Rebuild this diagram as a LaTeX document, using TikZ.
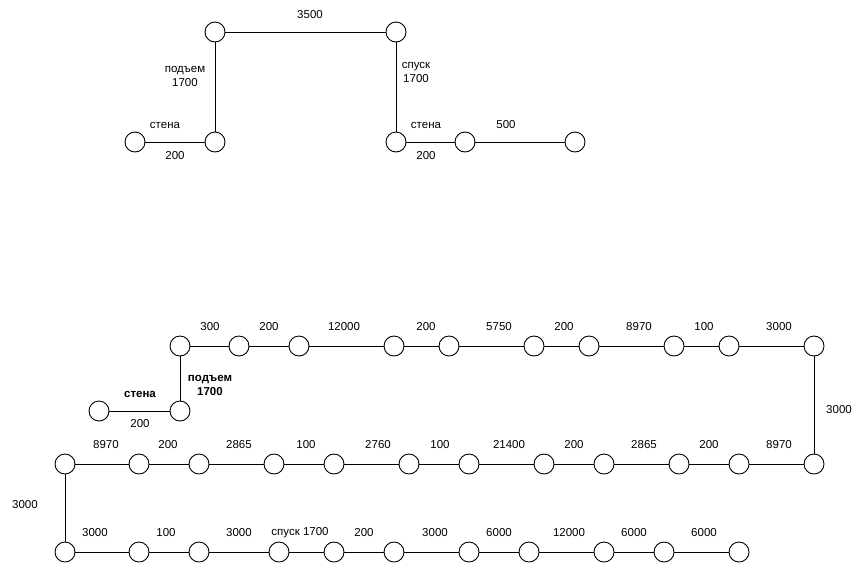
\documentclass[tikz,border=0pt]{standalone}
\usepackage{fontspec}
\setmainfont{Liberation Sans}
\usepackage{tikz}
\usetikzlibrary{positioning}
\definecolor{ink}{HTML}{000000}

\begin{document}
\begin{tikzpicture}[
  x=1pt,y=-1pt,
  font=\fontsize{11.5}{14}\selectfont,
  joint/.style={circle,draw=ink,fill=white,line width=0.9pt,inner sep=0pt,minimum size=20pt},
  pipe/.style={draw=ink,line width=0.9pt},
  lbl/.style={inner sep=0pt,align=center,text=ink},
  blbl/.style={lbl,font=\fontsize{11.5}{14}\selectfont\bfseries}]
\useasboundingbox (0,0) rectangle (864,563);
% upper sketch
\node[joint] (t1) at (135,142) {};
\node[joint] (t2) at (215,142) {};
\node[joint] (t3) at (215,32) {};
\node[joint] (t4) at (396,32) {};
\node[joint] (t5) at (396,142) {};
\node[joint] (t6) at (465,142) {};
\node[joint] (t7) at (575,142) {};
\draw[pipe] (t1) -- (t2) -- (t3) -- (t4) -- (t5) -- (t6) -- (t7);
\node[lbl] (tl1) at (310,15) {3500};
\node[lbl] (tl2) at (185,76) {подъем\\1700};
\node[lbl] (tl3) at (416,72) {спуск\\1700};
\node[lbl] (tl4) at (165,125) {стена};
\node[lbl] (tl5) at (175,156) {200};
\node[lbl] (tl6) at (426,125) {стена};
\node[lbl] (tl7) at (426,156) {200};
\node[lbl] (tl8) at (506,125) {500};
% lower sketch: wall and first row
\node[joint] (w1) at (99,411) {};
\node[joint] (w2) at (180,411) {};
\node[joint] (r1) at (180,346) {};
\node[joint] (r2) at (239,346) {};
\node[joint] (r3) at (299,346) {};
\node[joint] (r4) at (394,346) {};
\node[joint] (r5) at (449,346) {};
\node[joint] (r6) at (534,346) {};
\node[joint] (r7) at (589,346) {};
\node[joint] (r8) at (674,346) {};
\node[joint] (r9) at (729,346) {};
\node[joint] (r10) at (814,346) {};
% second row
\node[joint] (m1) at (65,464) {};
\node[joint] (m2) at (139,464) {};
\node[joint] (m3) at (199,464) {};
\node[joint] (m4) at (274,464) {};
\node[joint] (m5) at (334,464) {};
\node[joint] (m6) at (409,464) {};
\node[joint] (m7) at (469,464) {};
\node[joint] (m8) at (544,464) {};
\node[joint] (m9) at (604,464) {};
\node[joint] (m10) at (679,464) {};
\node[joint] (m11) at (739,464) {};
\node[joint] (m12) at (814,464) {};
% third row
\node[joint] (b1) at (65,552) {};
\node[joint] (b2) at (139,552) {};
\node[joint] (b3) at (199,552) {};
\node[joint] (b4) at (279,552) {};
\node[joint] (b5) at (334,552) {};
\node[joint] (b6) at (394,552) {};
\node[joint] (b7) at (469,552) {};
\node[joint] (b8) at (529,552) {};
\node[joint] (b9) at (604,552) {};
\node[joint] (b10) at (664,552) {};
\node[joint] (b11) at (739,552) {};
\draw[pipe] (w1) -- (w2) -- (r1) -- (r2) -- (r3) -- (r4) -- (r5) -- (r6) -- (r7) -- (r8) -- (r9) -- (r10) -- (m12);
\draw[pipe] (m12) -- (m11) -- (m10) -- (m9) -- (m8) -- (m7) -- (m6) -- (m5) -- (m4) -- (m3) -- (m2) -- (m1) -- (b1);
\draw[pipe] (b1) -- (b2) -- (b3) -- (b4) -- (b5) -- (b6) -- (b7) -- (b8) -- (b9) -- (b10) -- (b11);
% labels
\node[blbl] (wl1) at (140,394) {стена};
\node[lbl] (wl2) at (140,424) {200};
\node[blbl] (wl3) at (210,385) {подъем\\1700};
\node[lbl] (rl1) at (210,327) {300};
\node[lbl] (rl2) at (269,327) {200};
\node[lbl] (rl3) at (344,327) {12000};
\node[lbl] (rl4) at (426,327) {200};
\node[lbl] (rl5) at (499,327) {5750};
\node[lbl] (rl6) at (564,327) {200};
\node[lbl] (rl7) at (639,327) {8970};
\node[lbl] (rl8) at (704,327) {100};
\node[lbl] (rl9) at (779,327) {3000};
\node[lbl] (rl10) at (839,410) {3000};
\node[lbl] (ml1) at (106,445) {8970};
\node[lbl] (ml2) at (168,445) {200};
\node[lbl] (ml3) at (239,445) {2865};
\node[lbl] (ml4) at (306,445) {100};
\node[lbl] (ml5) at (378,445) {2760};
\node[lbl] (ml6) at (440,445) {100};
\node[lbl] (ml7) at (509,445) {21400};
\node[lbl] (ml8) at (574,445) {200};
\node[lbl] (ml9) at (644,445) {2865};
\node[lbl] (ml10) at (709,445) {200};
\node[lbl] (ml11) at (779,445) {8970};
\node[lbl] (ml12) at (25,505) {3000};
\node[lbl] (bl1) at (95,533) {3000};
\node[lbl] (bl2) at (166,533) {100};
\node[lbl] (bl3) at (239,533) {3000};
\node[lbl] (bl4) at (300,533) {спуск 1700};
\node[lbl] (bl5) at (364,533) {200};
\node[lbl] (bl6) at (435,533) {3000};
\node[lbl] (bl7) at (499,533) {6000};
\node[lbl] (bl8) at (569,533) {12000};
\node[lbl] (bl9) at (634,533) {6000};
\node[lbl] (bl10) at (704,533) {6000};
\end{tikzpicture}
\end{document}
